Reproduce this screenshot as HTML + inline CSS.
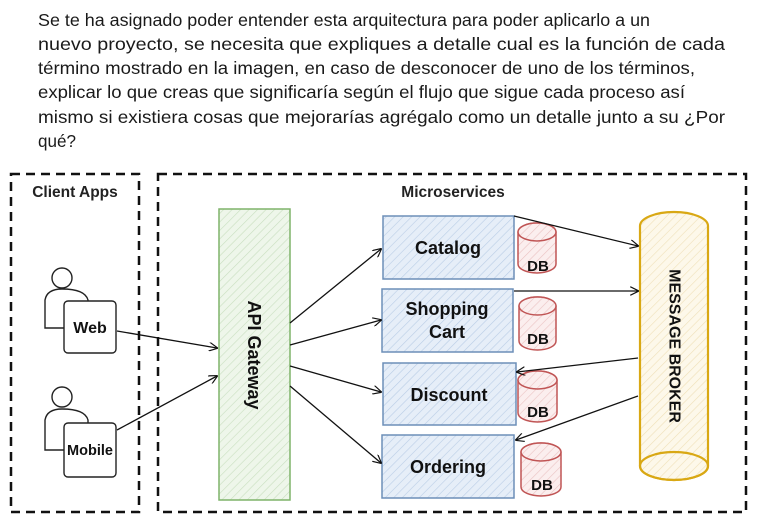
<!DOCTYPE html>
<html><head><meta charset="utf-8"><style>
html,body{margin:0;padding:0;background:#fff;}
svg{display:block;}
text{font-family:"Liberation Sans",sans-serif;}
</style></head><body>
<svg width="759" height="531" viewBox="0 0 759 531" xmlns="http://www.w3.org/2000/svg">
<defs>
<pattern id="hb" width="6" height="6" patternUnits="userSpaceOnUse" patternTransform="rotate(45)"><rect width="6" height="6" fill="#e6eef8"/><line x1="0" y1="0" x2="0" y2="6" stroke="#b9cde6" stroke-width="1.2"/></pattern>
<pattern id="hg" width="6" height="6" patternUnits="userSpaceOnUse" patternTransform="rotate(45)"><rect width="6" height="6" fill="#eef6ea"/><line x1="0" y1="0" x2="0" y2="6" stroke="#c9dfc0" stroke-width="1.2"/></pattern>
<pattern id="hr" width="6" height="6" patternUnits="userSpaceOnUse" patternTransform="rotate(45)"><rect width="6" height="6" fill="#fbeeee"/><line x1="0" y1="0" x2="0" y2="6" stroke="#ebc3c3" stroke-width="1.2"/></pattern>
<pattern id="hy" width="6" height="6" patternUnits="userSpaceOnUse" patternTransform="rotate(45)"><rect width="6" height="6" fill="#fdf8ea"/><line x1="0" y1="0" x2="0" y2="6" stroke="#efe0b8" stroke-width="1.2"/></pattern>
<marker id="ar" viewBox="0 0 10 10" refX="9" refY="5" markerWidth="9" markerHeight="9" orient="auto" markerUnits="userSpaceOnUse"><path d="M0,0 L10,5 L0,10" fill="none" stroke="#111" stroke-width="1.3"/></marker>
</defs>
<g font-size="17.5" fill="#1a1a1a">
<text x="38" y="26" textLength="612" lengthAdjust="spacingAndGlyphs">Se te ha asignado poder entender esta arquitectura para poder aplicarlo a un</text>
<text x="38" y="50" textLength="687" lengthAdjust="spacingAndGlyphs">nuevo proyecto, se necesita que expliques a detalle cual es la función de cada</text>
<text x="38" y="74" textLength="657" lengthAdjust="spacingAndGlyphs">término mostrado en la imagen, en caso de desconocer de uno de los términos,</text>
<text x="38" y="98" textLength="647" lengthAdjust="spacingAndGlyphs">explicar lo que creas que significaría según el flujo que sigue cada proceso así</text>
<text x="38" y="123" textLength="687" lengthAdjust="spacingAndGlyphs">mismo si existiera cosas que mejorarías agrégalo como un detalle junto a su ¿Por</text>
<text x="38" y="147" textLength="38" lengthAdjust="spacingAndGlyphs">qué?</text>
</g>
<rect x="11" y="174" width="128" height="338" fill="none" stroke="#111" stroke-width="2.5" stroke-dasharray="9,6"/>
<rect x="158" y="174" width="588" height="338" fill="none" stroke="#111" stroke-width="2.5" stroke-dasharray="9,6"/>
<text x="75" y="197" font-size="15.5" font-weight="bold" text-anchor="middle" fill="#222">Client Apps</text>
<text x="453" y="197" font-size="15.5" font-weight="bold" text-anchor="middle" fill="#222">Microservices</text>
<g fill="#fff" stroke="#222" stroke-width="1.4">
<circle cx="62" cy="278" r="10"/>
<path d="M45,328 L45,300 Q47,289 62,289 Q85,289 88,300 L88,328 Z"/>
<rect x="64" y="301" width="52" height="52" rx="4"/>
<circle cx="62" cy="397" r="10"/>
<path d="M45,450 L45,420 Q47,409 62,409 Q85,409 88,420 L88,450 Z"/>
<rect x="64" y="423" width="52" height="54" rx="4"/>
</g>
<text x="90" y="333" font-size="16" font-weight="bold" text-anchor="middle" fill="#111">Web</text>
<text x="90" y="455" font-size="14.5" font-weight="bold" text-anchor="middle" fill="#111">Mobile</text>
<rect x="219" y="209" width="71" height="291" fill="url(#hg)" stroke="#7fb46a" stroke-width="1.5"/>
<text transform="translate(254,355) rotate(90)" font-size="18" font-weight="bold" text-anchor="middle" dominant-baseline="central" fill="#111">API Gateway</text>
<g stroke="#6d8fb8" stroke-width="1.5" fill="url(#hb)">
<rect x="383" y="216" width="131" height="63"/>
<rect x="382" y="289" width="131" height="63"/>
<rect x="383" y="363" width="133" height="62"/>
<rect x="382" y="435" width="132" height="63"/>
</g>
<g font-size="18" font-weight="bold" text-anchor="middle" fill="#111">
<text x="448" y="254">Catalog</text>
<text x="447" y="315">Shopping</text>
<text x="447" y="338">Cart</text>
<text x="449" y="401">Discount</text>
<text x="448" y="473">Ordering</text>
</g>
<g stroke="#c05555" stroke-width="1.5" fill="url(#hr)">
<path d="M518,232 A19,9 0 0 1 556,232 L556,264 A19,9 0 0 1 518,264 Z"/><ellipse cx="537" cy="232" rx="19" ry="9"/>
<path d="M519,306 A18.5,9 0 0 1 556,306 L556,341 A18.5,9 0 0 1 519,341 Z"/><ellipse cx="537.5" cy="306" rx="18.5" ry="9"/>
<path d="M518,380 A19.5,9 0 0 1 557,380 L557,413 A19.5,9 0 0 1 518,413 Z"/><ellipse cx="537.5" cy="380" rx="19.5" ry="9"/>
<path d="M521,452 A20,9 0 0 1 561,452 L561,487 A20,9 0 0 1 521,487 Z"/><ellipse cx="541" cy="452" rx="20" ry="9"/>
</g>
<g font-size="15" font-weight="bold" text-anchor="middle" fill="#111">
<text x="538" y="271">DB</text>
<text x="538" y="344">DB</text>
<text x="538" y="417">DB</text>
<text x="542" y="490">DB</text>
</g>
<path d="M640,226 A34,14 0 0 1 708,226 L708,466 A34,14 0 0 1 640,466 Z" fill="url(#hy)" stroke="#d9a814" stroke-width="2.2"/>
<ellipse cx="674" cy="466" rx="34" ry="14" fill="none" stroke="#d9a814" stroke-width="2.2"/>
<text transform="translate(674,346) rotate(90)" font-size="16" font-weight="bold" text-anchor="middle" dominant-baseline="central" fill="#111">MESSAGE BROKER</text>
<g stroke="#111" stroke-width="1.3" fill="none" marker-end="url(#ar)">
<line x1="117" y1="331" x2="217" y2="348"/>
<line x1="117" y1="430" x2="217" y2="376"/>
<line x1="290" y1="323" x2="381" y2="249"/>
<line x1="290" y1="345" x2="381" y2="320"/>
<line x1="290" y1="366" x2="381" y2="392"/>
<line x1="290" y1="386" x2="381" y2="463"/>
<line x1="514" y1="216" x2="638" y2="246"/>
<line x1="514" y1="291" x2="638" y2="291"/>
<line x1="638" y1="358" x2="517" y2="372"/>
<line x1="638" y1="396" x2="516" y2="440"/>
</g>
</svg>
</body></html>
